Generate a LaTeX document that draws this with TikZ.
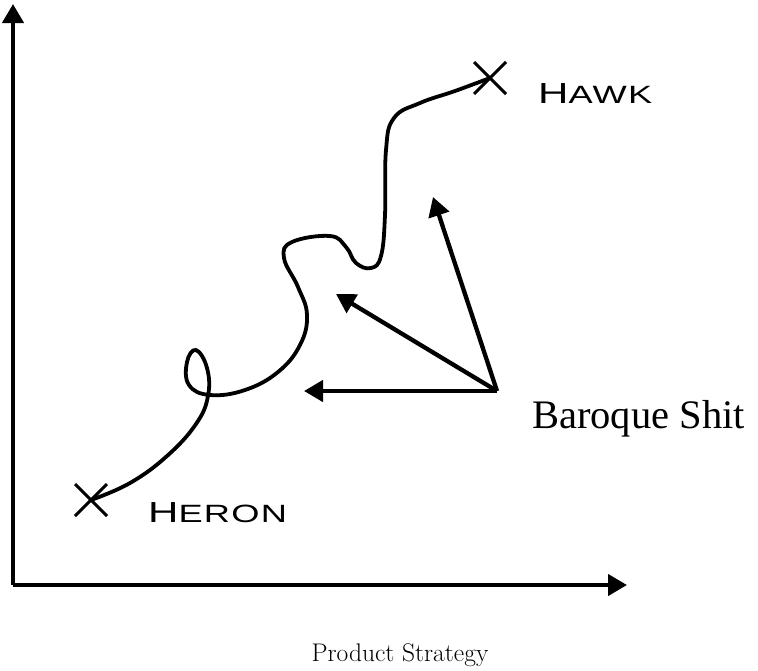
\documentclass[tikz,border=0pt]{standalone}
\usepackage{fontspec}
\usepackage{tikz}
\usetikzlibrary{arrows.meta,shapes.misc}
\newfontfamily\wideface[FakeStretch=1.45,LetterSpace=5]{Liberation Sans}
\newfontfamily\timesface{Liberation Serif}
\newcommand{\bigsc}[2]{{\wideface\fontsize{29}{30}\selectfont #1\fontsize{25}{30}\selectfont #2}}

\begin{document}
\begin{tikzpicture}[
      x=1pt,y=-1pt,
      axis/.style={line width=4.3pt,-{Triangle[length=19pt,width=21pt]}},
      ptr/.style={line width=4.3pt,-{Triangle[length=19pt,width=21pt]}},
      mark cross/.style={cross out,draw,line width=3pt,minimum size=29pt,inner sep=0pt},
      lbl/.style={anchor=base west,inner sep=0pt},
      path line/.style={line width=3.8pt,line cap=round,line join=round}
    ]
    \useasboundingbox (0,0) rectangle (758,670);
    % axes
    \coordinate (origin) at (13,585);
    \coordinate (ytip) at (13,4);
    \coordinate (xtip) at (627,585);
    \draw[axis] (origin) -- (ytip);
    \draw[axis] (origin) -- (xtip);

    % end points
    \node[mark cross] (heron) at (91,500) {};
    \node[mark cross] (hawk) at (490,78) {};
    \node[lbl] (heronlbl) at (148,522) {\bigsc{H}{ERON}};
    \node[lbl] (hawklbl) at (538,103) {\bigsc{H}{AWK}};

    % the wandering path
    \draw[path line] plot[smooth,tension=0.7] coordinates {
      (heron.center) (130,483) (167,456) (196,424) (208,396)
      (207,368) (196,350) (187,362) (189,385) (210,395)
      (245,390) (278,372) (300,345) (307,315) (298,287)
      (284,258) (292,242) (330,236) (346,247) (356,263)
      (371,268) (381,256) (385,215) (386,150) (394,118)
      (420,103) (455,91) (hawk.center)};

    % baroque arrows
    \coordinate (src) at (497,391);
    \coordinate (tipa) at (433,197);
    \coordinate (tipb) at (336,294);
    \coordinate (tipc) at (304,391);
    \draw[ptr] (src) -- (tipa);
    \draw[ptr] (src) -- (tipb);
    \draw[ptr] (src) -- (tipc);
    \node[lbl] (baroque) at (532,428) {\timesface\fontsize{40.5}{44}\selectfont Baroque Shit};

    \node[anchor=base] (caption) at (400,661) {\fontsize{25.5}{30}\selectfont Product Strategy};
  \end{tikzpicture}
\end{document}
